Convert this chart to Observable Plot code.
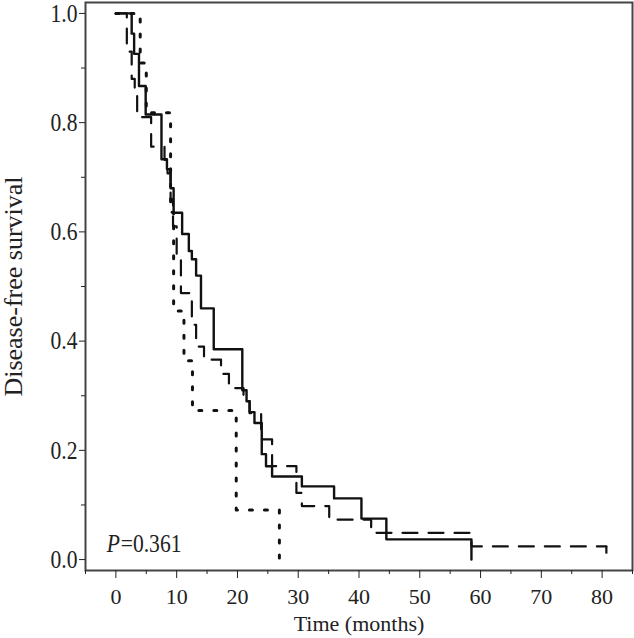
<!DOCTYPE html>
<html>
<head>
<meta charset="utf-8">
<script src="https://cdn.jsdelivr.net/npm/d3@7"></script>
<script src="https://cdn.jsdelivr.net/npm/@observablehq/plot@0.6"></script>
<style>
  html, body { margin: 0; padding: 0; background: #fff; }
  #chart svg { display: block; }
</style>
</head>
<body>
<div id="chart"></div>
<script>
// Kaplan–Meier steps: time (months) and survival after each step
const solidTime = [0, 2.6, 3.0, 3.8, 4.9, 7.5, 8.4, 9.0, 9.5, 10.9, 12.0, 12.5, 13.2, 14.0, 16.1, 20.8, 21.5, 22.0, 22.8, 24.0, 24.7, 25.7, 30.6, 35.9, 40.4, 44.5, 58.5];
const solidSurv = [1.0, 0.963, 0.926, 0.867, 0.815, 0.733, 0.715, 0.68, 0.635, 0.596, 0.565, 0.55, 0.52, 0.46, 0.385, 0.31, 0.29, 0.27, 0.25, 0.193, 0.171, 0.152, 0.134, 0.112, 0.075, 0.037, 0.0];

const dashedTime = [0, 1.8, 2.6, 3.1, 3.5, 5.8, 8.0, 8.5, 9.0, 9.4, 10.0, 10.7, 12.5, 13.2, 14.5, 17.3, 18.6, 21.0, 22.0, 23.9, 25.7, 29.7, 30.6, 35.1, 42.0, 58.5, 80.7];
const dashedSurv = [1.0, 0.93, 0.88, 0.85, 0.81, 0.756, 0.732, 0.707, 0.66, 0.61, 0.56, 0.488, 0.43, 0.39, 0.366, 0.34, 0.314, 0.29, 0.268, 0.22, 0.171, 0.122, 0.098, 0.073, 0.049, 0.024, 0.024];

const dottedTime = [0, 4.0, 5.0, 9.0, 9.5, 11.2, 12.6, 19.8, 26.9];
const dottedSurv = [1.0, 0.909, 0.818, 0.636, 0.455, 0.364, 0.273, 0.091, 0.0];

const censorTime = [80.7];
const censorSurv = [0.024];

const xTicks = [0, 10, 20, 30, 40, 50, 60, 70, 80];
const xMinorTicks = [-5, 5, 15, 25, 35, 45, 55, 65, 75, 85];
const yTicks = [0.0, 0.2, 0.4, 0.6, 0.8, 1.0];
const yMinorTicks = [0.1, 0.3, 0.5, 0.7, 0.9];

const pLabel = "P";
const pValue = "=0.361";

const toRows = (ts, ss) => ts.map((t, i) => ({t, s: ss[i]}));
const solid = toRows(solidTime, solidSurv);
const dashed = toRows(dashedTime, dashedSurv);
const dotted = toRows(dottedTime, dottedSurv);
const censor = toRows(censorTime, censorSurv);

const font = "'Liberation Serif', 'Times New Roman', serif";
const fs = 26;   // y-axis text and annotation (horizontally condensed below)
const fx = 22;   // x-axis text

const chart = Plot.plot({
  width: 634,
  height: 638,
  marginLeft: 85,
  marginRight: 2,
  marginTop: 2,
  marginBottom: 68,
  style: {fontFamily: font, fontSize: fs + "px", color: "#222", background: "#fff"},
  x: {domain: [-5, 85]},
  y: {domain: [-0.02, 1.02]},
  marks: [
    Plot.frame({stroke: "#444", strokeWidth: 2}),
    Plot.axisX({ticks: xTicks, tickSize: 8, tickPadding: 10, tickFormat: d => String(d), label: "Time (months)", labelAnchor: "center", labelOffset: 60, labelArrow: "none", fontSize: fx}),
    Plot.axisX({ticks: xMinorTicks, tickSize: 4, tickFormat: () => "", label: null}),
    Plot.axisY({ticks: yTicks, tickSize: 6, tickPadding: 2, tickFormat: d => d.toFixed(1), label: "Disease-free survival", labelAnchor: "center", labelOffset: 82, labelArrow: "none", fontSize: fs}),
    Plot.axisY({ticks: yMinorTicks, tickSize: 4, tickFormat: () => "", label: null}),
    Plot.line(dotted, {x: "t", y: "s", curve: "step-after", stroke: "#111", strokeWidth: 3, strokeDasharray: "3,12"}),
    Plot.line(dashed, {x: "t", y: "s", curve: "step-after", stroke: "#111", strokeWidth: 2.2, strokeDasharray: "15,11"}),
    Plot.line(solid, {x: "t", y: "s", curve: "step-after", stroke: "#111", strokeWidth: 2.4}),
    Plot.ruleX(censor, {x: "t", y1: "s", y2: d => d.s - 0.014, stroke: "#111", strokeWidth: 2.2}),
    Plot.text([pLabel], {x: -1.5, y: 0.03, text: d => d, textAnchor: "start", fontStyle: "italic", fontSize: fs, fontFamily: font, fill: "#222"}),
    Plot.text([pValue], {x: -1.5, y: 0.03, text: d => d, textAnchor: "start", dx: 14, fontSize: fs, fontFamily: font, fill: "#222"})
  ]
});

// the reference's y-axis lettering is horizontally condensed: squeeze those texts about their anchor
const c = 0.83;
chart.querySelectorAll("text").forEach(t => {
  const g = t.closest("g[aria-label]");
  const lab = g ? g.getAttribute("aria-label") : "";
  if (lab.startsWith("x-axis")) return;
  const tr = t.getAttribute("transform") || "";
  if (tr.includes("rotate")) return;
  let x = parseFloat(t.getAttribute("x"));
  if (!isFinite(x)) x = 0;
  t.setAttribute("transform", `${tr} translate(${x},0) scale(${c},1) translate(${-x},0)`.trim());
});
document.getElementById("chart").appendChild(chart);
</script>
</body>
</html>
